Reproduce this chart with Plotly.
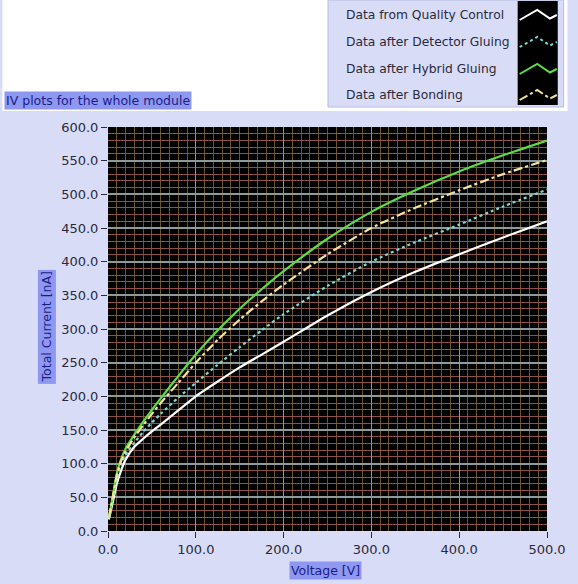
import plotly.graph_objects as go

# ---------------- data ----------------
voltage = [1, 5, 10, 15, 20, 30, 40, 50, 60, 80, 100, 125, 150, 175, 200,
           250, 300, 350, 400, 450, 500]

qc_current = [17, 40, 70, 90, 106, 125, 137, 148, 158, 179, 200, 222, 243,
              262, 281, 320, 355, 385, 411, 436, 460]
detector_current = [19, 45, 78, 100, 113, 131, 147, 161, 174, 198, 220, 247,
                    273, 298, 322, 364, 400, 429, 455, 482, 507]
hybrid_current = [20, 48, 85, 107, 122, 143, 162, 180, 197, 230, 262, 298,
                  330, 359, 386, 434, 474, 506, 534, 558, 580]
bonding_current = [20, 47, 82, 104, 118, 139, 157, 174, 190, 220, 250, 284,
                   314, 341, 366, 411, 450, 480, 506, 530, 551]

series_names = ["Data from Quality Control", "Data after Detector Gluing",
                "Data after Hybrid Gluing", "Data after Bonding"]
series_values = [qc_current, detector_current, hybrid_current, bonding_current]
series_colors = ["#ffffff", "#7fd6d6", "#5fdc45", "#f2e49a"]
series_dash = ["solid", "dot", "solid", "dashdot"]

x_ticks = [0, 100, 200, 300, 400, 500]
y_ticks = [0, 50, 100, 150, 200, 250, 300, 350, 400, 450, 500, 550, 600]

title_text = "IV plots for the whole module"
x_title = "Voltage [V]"
y_title = "Total Current [nA]"

# ---------------- layout geometry (pixels) ----------------
W, H = 578, 584
L, R, T, B = 108, 557, 127, 531
PW, PH = R - L, B - T


def px(x):
    return (x - L) / PW


def py(y):
    return (B - y) / PH


LAV = "#d9dcf7"
HIL = "#8e98f0"
TXT = "#2a2a3c"
FONT = "DejaVu Sans"

fig = go.Figure()
for name, vals, col, dash in zip(series_names, series_values, series_colors, series_dash):
    fig.add_trace(go.Scatter(x=voltage, y=vals, mode="lines", name=name,
                             line=dict(color=col, width=2.2, dash=dash,
                                       shape="spline", smoothing=0.6),
                             showlegend=False))

shapes = []
# white band at top, legend panel
shapes.append(dict(type="rect", xref="paper", yref="paper", x0=px(0), x1=px(W),
                   y0=py(0), y1=py(111), fillcolor="#ffffff", line=dict(width=0),
                   layer="below"))
shapes.append(dict(type="rect", xref="paper", yref="paper", x0=px(333), x1=px(574),
                   y0=py(0), y1=py(107), fillcolor=LAV,
                   line=dict(width=1, color="#b8bce0"), layer="below"))
shapes.append(dict(type="rect", xref="paper", yref="paper", x0=px(527), x1=px(568),
                   y0=py(1), y1=py(105), fillcolor="#000000", line=dict(width=0)))
row_centers = [15, 42, 69, 95]
for c, col, dash in zip(row_centers, series_colors, series_dash):
    pts = [(529, c + 5), (547, c - 5), (560, c + 3.5), (567, c)]
    path = "M " + " L ".join(f"{px(a):.5f},{py(b):.5f}" for a, b in pts)
    shapes.append(dict(type="path", xref="paper", yref="paper", path=path,
                       line=dict(color=col, width=2, dash=dash)))

annotations = []
for c, name in zip(row_centers, series_names):
    annotations.append(dict(text=name, xref="paper", yref="paper", x=px(349), y=py(c),
                            xanchor="left", yanchor="middle", showarrow=False,
                            font=dict(family=FONT, size=12.3, color=TXT)))
annotations.append(dict(text=title_text, xref="paper", yref="paper", x=px(2), y=py(100.5),
                        xanchor="left", yanchor="middle", showarrow=False,
                        bgcolor=HIL, borderpad=1,
                        font=dict(family=FONT, size=12.5, color="#1c1c88")))
annotations.append(dict(text=x_title, xref="paper", yref="paper", x=px(330), y=py(570.5),
                        xanchor="center", yanchor="middle", showarrow=False,
                        bgcolor=HIL, borderpad=1,
                        font=dict(family=FONT, size=12.5, color="#1c1c88")))
annotations.append(dict(text=y_title, xref="paper", yref="paper", x=px(45), y=py(327),
                        xanchor="center", yanchor="middle", showarrow=False,
                        textangle=-90, bgcolor=HIL, borderpad=1,
                        font=dict(family=FONT, size=12.5, color="#1c1c88")))

fig.update_layout(
    width=W, height=H,
    margin=dict(l=L, r=W - R, t=T, b=H - B, pad=0),
    paper_bgcolor=LAV, plot_bgcolor="#000000",
    shapes=shapes, annotations=annotations, showlegend=False,
    xaxis=dict(range=[0, 500], tickvals=x_ticks, tickformat=".1f",
               ticks="outside", ticklen=6, tickcolor=TXT, tickwidth=1,
               tickfont=dict(family=FONT, size=13, color=TXT),
               showgrid=True, gridcolor="#a89840", gridwidth=1,
               minor=dict(dtick=10, showgrid=True, gridcolor="#6e5528", gridwidth=1),
               zeroline=False, showline=False, fixedrange=True),
    yaxis=dict(range=[0, 600], tickvals=y_ticks, tickformat=".1f",
               ticks="outside", ticklen=6, tickcolor=TXT, tickwidth=1,
               tickfont=dict(family=FONT, size=13, color=TXT),
               showgrid=True, gridcolor="#8c9c9a", gridwidth=1.5,
               minor=dict(dtick=10, showgrid=True, gridcolor="#8e524a", gridwidth=1),
               zeroline=False, showline=False, fixedrange=True),
)

fig.write_html("out.html")
